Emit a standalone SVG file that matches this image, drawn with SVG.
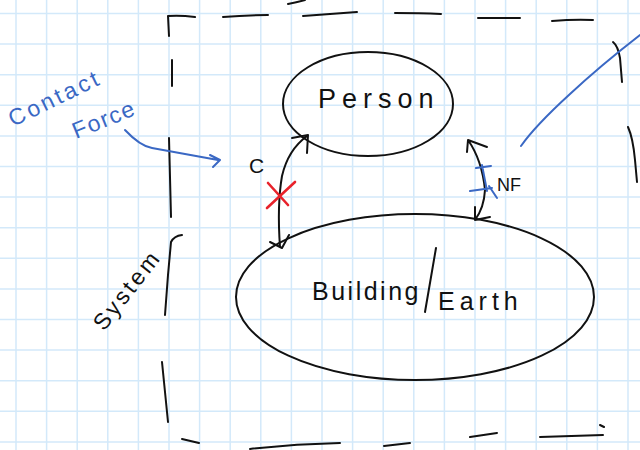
<svg xmlns="http://www.w3.org/2000/svg" width="640" height="450" viewBox="0 0 640 450">
<style>
.grid{stroke:#d3e9fa;stroke-width:1.5;fill:none}
.ink{stroke:#111;stroke-width:2;fill:none;stroke-linecap:round;stroke-linejoin:round}
.blue{stroke:#3a68c4;stroke-width:2;fill:none;stroke-linecap:round;stroke-linejoin:round}
.red{stroke:#e8222b;stroke-width:2.6;fill:none;stroke-linecap:round}
.t{font-family:"Liberation Sans",Arial,sans-serif;fill:#111}
.tb{font-family:"Liberation Sans",Arial,sans-serif;fill:#3a68c4}
</style>
<rect width="640" height="450" fill="#fff"/>
<path class="grid" d="M16 0V450M46.6 0V450M77.2 0V450M107.8 0V450M138.4 0V450M169 0V450M199.6 0V450M230.2 0V450M260.8 0V450M291.4 0V450M322 0V450M352.6 0V450M383.2 0V450M413.8 0V450M444.4 0V450M475 0V450M505.6 0V450M536.2 0V450M566.8 0V450M597.4 0V450M628 0V450M0 13.5H640M0 44.1H640M0 74.7H640M0 105.3H640M0 135.9H640M0 166.5H640M0 197.1H640M0 227.7H640M0 258.3H640M0 288.9H640M0 319.5H640M0 350.1H640M0 380.7H640M0 411.3H640M0 441.9H640"/>
<g id="system-border">
<path class="ink" d="M169 36L168 16Q180 15 195 17M223 17Q245 15 268 15M303 16Q330 14 357 12M395 13Q420 13 441 14M478 18L520 18M552 21Q575 19 593 20M288 4Q298 2 305 0"/>
<path class="ink" d="M172 60L172 86M169 138L171 217M182 235Q174 236 171 242L168 275L165 315M162 362L168 422"/>
<path class="ink" d="M182 439L199 443M250 449Q295 444 340 443M384 446L410 443M470 437L497 433M540 437Q575 436 603 435M600 425L604 427"/>
<path class="ink" d="M613 42Q618 46 620 58L622 82M628 127Q633 138 635 160L637 182"/>
</g>
<g id="person">
<ellipse class="ink" cx="368" cy="104" rx="85" ry="52"/>
<text class="t" x="318" y="108" font-size="27" letter-spacing="6">Person</text>
</g>
<g id="building-earth">
<ellipse class="ink" cx="415" cy="297" rx="179" ry="83"/>
<text class="t" x="312" y="300" font-size="25" letter-spacing="2.5">Building</text>
<path class="ink" d="M436 248L425 312"/>
<text class="t" x="438" y="310" font-size="25" letter-spacing="5">Earth</text>
</g>
<g id="labels">
<text class="tb" font-size="23" letter-spacing="3" transform="translate(13 127) rotate(-26)">Contact</text>
<text class="tb" font-size="23" letter-spacing="1.5" transform="translate(76 139) rotate(-22)">Force</text>
<text class="t" font-size="23" letter-spacing="3" transform="translate(104 332) rotate(-52)">System</text>
<text class="t" x="249" y="173" font-size="21">C</text>
<text class="t" x="497" y="191" font-size="18">NF</text>
</g>
<g id="connectors">
<path class="blue" d="M125 130Q140 146 152 148Q185 154 218 160M210 155L220 160L213 167"/>
<path class="blue" d="M521 146Q535 126 570 94Q600 66 640 35"/>
<path class="ink" d="M307 136Q288 150 282 176Q277 205 280 247M292 138L308 135L307 153M270 242L282 248L289 235"/>
<path class="ink" d="M468 140Q482 160 485 190Q484 208 475 220M467 152L468 140L487 147M475 207L475 220L490 217"/>
<path class="red" d="M268 183L288 205M295 182L267 208"/>
<path class="blue" stroke-width="3" d="M476 168L491 166M482 165L487 191M470 191L492 188M489 186L497 198"/>
</g>
</svg>
